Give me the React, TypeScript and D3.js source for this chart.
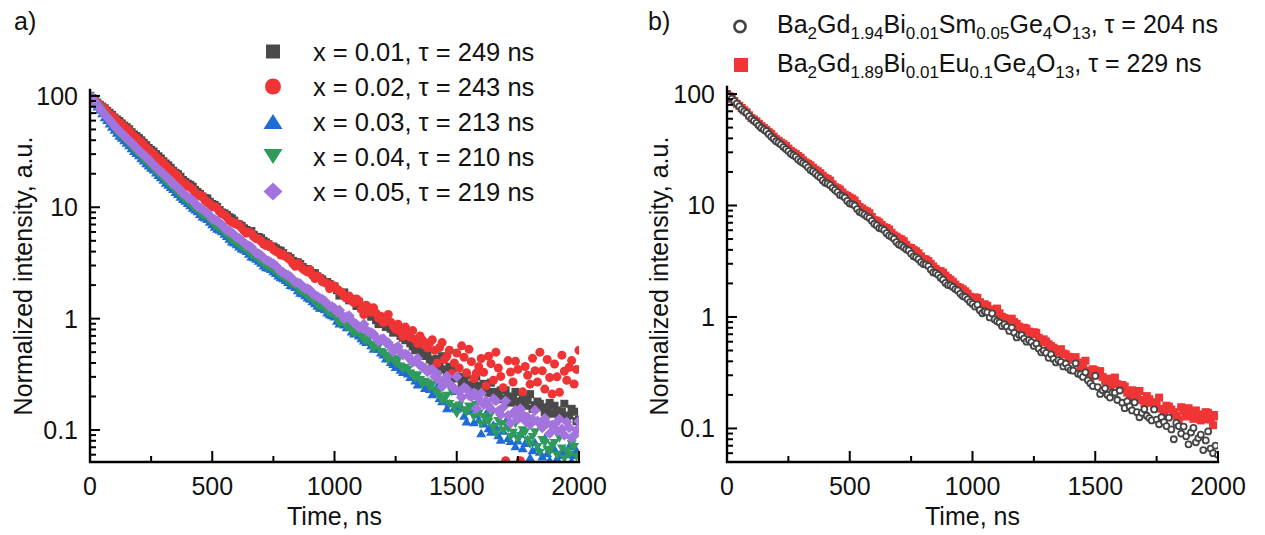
import React, { useRef, useEffect } from "react";
import * as d3 from "d3";

// time channels, ns (10 ns bins)
const TIME_NS = [
  0, 10, 20, 30, 40, 50, 60, 70, 80, 90, 100, 110, 120, 130, 140, 150, 160, 170, 180, 190,
  200, 210, 220, 230, 240, 250, 260, 270, 280, 290, 300, 310, 320, 330, 340, 350, 360, 370, 380, 390,
  400, 410, 420, 430, 440, 450, 460, 470, 480, 490, 500, 510, 520, 530, 540, 550, 560, 570, 580, 590,
  600, 610, 620, 630, 640, 650, 660, 670, 680, 690, 700, 710, 720, 730, 740, 750, 760, 770, 780, 790,
  800, 810, 820, 830, 840, 850, 860, 870, 880, 890, 900, 910, 920, 930, 940, 950, 960, 970, 980, 990,
  1000, 1010, 1020, 1030, 1040, 1050, 1060, 1070, 1080, 1090, 1100, 1110, 1120, 1130, 1140, 1150, 1160, 1170, 1180, 1190,
  1200, 1210, 1220, 1230, 1240, 1250, 1260, 1270, 1280, 1290, 1300, 1310, 1320, 1330, 1340, 1350, 1360, 1370, 1380, 1390,
  1400, 1410, 1420, 1430, 1440, 1450, 1460, 1470, 1480, 1490, 1500, 1510, 1520, 1530, 1540, 1550, 1560, 1570, 1580, 1590,
  1600, 1610, 1620, 1630, 1640, 1650, 1660, 1670, 1680, 1690, 1700, 1710, 1720, 1730, 1740, 1750, 1760, 1770, 1780, 1790,
  1800, 1810, 1820, 1830, 1840, 1850, 1860, 1870, 1880, 1890, 1900, 1910, 1920, 1930, 1940, 1950, 1960, 1970, 1980, 1990,
  2000
];

// panel a) Bi content series
const X001 = [
  100, 95.4, 91.3, 87.0, 83.4, 80.2, 77.5, 73.6, 70.6, 67.6, 64.0, 61.5, 59.5, 56.6, 54.1, 52.4, 50.2, 47.3, 45.1, 43.6, 41.8,
  39.9, 37.9, 36.1, 34.1, 32.8, 31.7, 30.0, 28.7, 27.4, 25.9, 24.7, 23.8, 22.6, 21.3, 20.4, 19.8, 18.8, 17.6, 16.9, 16.3,
  15.9, 15.3, 14.3, 13.7, 13.2, 12.5, 12.1, 12.0, 11.2, 10.7, 10.5, 10.1, 9.45, 8.98, 8.83, 8.53, 8.15, 7.96, 7.59, 7.11,
  7.02, 6.82, 6.47, 6.26, 6.05, 6.11, 5.66, 5.43, 5.41, 5.27, 5.00, 4.84, 4.66, 4.42, 4.44, 4.29, 4.12, 4.07, 3.88, 3.66,
  3.62, 3.50, 3.30, 3.22, 3.20, 3.09, 2.91, 2.78, 2.79, 2.69, 2.57, 2.56, 2.40, 2.32, 2.25, 2.14, 2.13, 2.05, 1.93, 1.95,
  1.80, 1.61, 1.69, 1.72, 1.55, 1.46, 1.50, 1.45, 1.30, 1.41, 1.24, 1.13, 1.16, 1.11, 1.04, 1.10, 0.97, 0.893, 0.952, 0.927,
  0.84, 0.877, 0.81, 0.748, 0.76, 0.789, 0.70, 0.673, 0.64, 0.659, 0.60, 0.563, 0.52, 0.583, 0.50, 0.462, 0.49, 0.470, 0.43, 0.408,
  0.39, 0.436, 0.37, 0.460, 0.35, 0.319, 0.37, 0.331, 0.29, 0.356, 0.30, 0.261, 0.28, 0.308, 0.24, 0.256, 0.27, 0.302, 0.25, 0.225,
  0.26, 0.239, 0.215, 0.266, 0.22, 0.188, 0.205, 0.227, 0.19, 0.227, 0.20, 0.176, 0.195, 0.220, 0.17, 0.181, 0.19, 0.165, 0.185, 0.210,
  0.155, 0.167, 0.18, 0.172, 0.16, 0.145, 0.15, 0.175, 0.14, 0.165, 0.15, 0.129, 0.145, 0.172, 0.13, 0.135, 0.155, 0.146, 0.12, 0.124
];
const X002 = [
  100, 95.8, 92.0, 87.0, 82.8, 79.5, 76.9, 72.3, 68.4, 66.0, 63.3, 59.9, 57.1, 55.1, 52.8, 50.4, 48.6, 45.6, 43.2, 41.7, 39.7,
  38.3, 36.5, 34.3, 32.6, 31.5, 30.1, 28.4, 27.1, 26.2, 25.1, 23.6, 22.4, 21.6, 20.6, 19.8, 18.9, 17.6, 16.7, 16.3, 15.5,
  15.1, 14.5, 13.5, 12.8, 12.8, 12.5, 11.6, 11.1, 10.7, 10.1, 10.1, 9.85, 9.15, 8.75, 8.55, 8.16, 7.62, 7.32, 7.30, 7.04,
  6.88, 6.54, 6.13, 5.86, 5.97, 5.82, 5.42, 5.23, 5.16, 4.98, 4.68, 4.53, 4.62, 4.49, 4.18, 4.02, 3.95, 3.72, 3.78, 3.62,
  3.50, 3.35, 3.10, 2.95, 3.12, 3.00, 2.80, 2.70, 2.62, 2.73, 2.45, 2.29, 2.42, 2.31, 2.15, 2.11, 2.05, 1.86, 2.00, 1.95,
  1.84, 1.77, 1.72, 1.59, 1.52, 1.60, 1.45, 1.39, 1.50, 1.44, 1.22, 1.09, 1.32, 1.26, 1.14, 1.25, 1.12, 1.01, 1.05, 0.923,
  0.99, 1.09, 0.93, 0.859, 0.80, 0.892, 0.76, 0.692, 0.84, 0.753, 0.68, 0.781, 0.65, 0.598, 0.70, 0.640, 0.58, 0.547, 0.61, 0.646,
  0.52, 0.399, 0.55, 0.609, 0.43, 0.461, 0.52, 0.321, 0.40, 0.491, 0.36, 0.570, 0.45, 0.327, 0.53, 0.411, 0.29, 0.323, 0.37, 0.439,
  0.33, 0.250, 0.46, 0.394, 0.28, 0.500, 0.36, 0.303, 0.24, 0.053, 0.42, 0.332, 0.27, 0.414, 0.35, 0.053, 0.22, 0.372, 0.31, 0.258,
  0.44, 0.341, 0.27, 0.500, 0.34, 0.233, 0.43, 0.296, 0.21, 0.391, 0.30, 0.218, 0.47, 0.337, 0.28, 0.366, 0.42, 0.259, 0.35, 0.520
];
const X003 = [
  100, 92.3, 85.6, 80.6, 75.6, 70.3, 64.8, 61.0, 56.7, 53.2, 49.9, 46.9, 44.1, 42.3, 40.2, 38.2, 36.3, 34.1, 32.1, 30.8, 29.4,
  27.7, 26.4, 25.0, 23.8, 22.8, 21.9, 20.6, 19.6, 18.7, 17.8, 16.7, 16.0, 15.3, 14.7, 13.8, 13.2, 12.5, 11.9, 11.5, 11.0,
  10.5, 9.95, 9.58, 9.24, 8.73, 8.30, 8.12, 7.90, 7.45, 7.08, 6.73, 6.46, 6.30, 6.12, 5.80, 5.55, 5.24, 4.96, 4.84, 4.68,
  4.46, 4.28, 4.20, 4.08, 3.84, 3.64, 3.58, 3.47, 3.32, 3.19, 3.02, 2.91, 2.88, 2.80, 2.68, 2.58, 2.45, 2.37, 2.32, 2.24,
  2.14, 2.02, 1.99, 1.93, 1.81, 1.72, 1.70, 1.63, 1.56, 1.52, 1.44, 1.38, 1.31, 1.26, 1.25, 1.22, 1.14, 1.10, 1.08, 1.05,
  0.96, 0.91, 0.92, 0.89, 0.84, 0.86, 0.77, 0.74, 0.75, 0.71, 0.67, 0.64, 0.62, 0.65, 0.58, 0.54, 0.56, 0.54, 0.50, 0.48,
  0.44, 0.451, 0.41, 0.393, 0.37, 0.408, 0.35, 0.333, 0.34, 0.324, 0.30, 0.324, 0.28, 0.257, 0.27, 0.267, 0.24, 0.252, 0.235, 0.210,
  0.22, 0.248, 0.195, 0.182, 0.19, 0.158, 0.175, 0.225, 0.16, 0.156, 0.17, 0.159, 0.135, 0.120, 0.15, 0.157, 0.118, 0.140, 0.125, 0.094,
  0.115, 0.142, 0.104, 0.097, 0.112, 0.108, 0.09, 0.082, 0.099, 0.121, 0.085, 0.080, 0.094, 0.072, 0.081, 0.093, 0.069, 0.077, 0.083, 0.057,
  0.066, 0.078, 0.07, 0.064, 0.058, 0.085, 0.062, 0.054, 0.071, 0.068, 0.056, 0.060, 0.065, 0.047, 0.061, 0.072, 0.053, 0.060, 0.066, 0.050
];
const X004 = [
  100, 93.0, 86.7, 81.2, 76.6, 70.8, 65.6, 61.5, 57.4, 53.6, 50.5, 47.3, 44.6, 42.7, 40.7, 38.5, 36.7, 34.4, 32.5, 31.1, 29.7,
  28.0, 26.6, 25.3, 24.0, 23.1, 22.1, 20.8, 19.8, 18.9, 17.9, 16.9, 16.1, 15.5, 14.8, 14.0, 13.3, 12.6, 12.0, 11.6, 11.1,
  10.6, 10.0, 9.70, 9.35, 8.80, 8.37, 8.25, 8.00, 7.52, 7.15, 6.80, 6.52, 6.38, 6.19, 5.85, 5.61, 5.28, 5.00, 4.90, 4.73,
  4.50, 4.33, 4.25, 4.13, 3.87, 3.68, 3.62, 3.51, 3.35, 3.23, 3.05, 2.94, 2.91, 2.84, 2.70, 2.61, 2.48, 2.39, 2.35, 2.27,
  2.16, 2.04, 2.02, 1.96, 1.83, 1.74, 1.72, 1.65, 1.58, 1.54, 1.46, 1.40, 1.32, 1.28, 1.27, 1.24, 1.15, 1.11, 1.10, 1.06,
  0.98, 0.900, 0.94, 0.908, 0.83, 0.885, 0.77, 0.729, 0.76, 0.723, 0.68, 0.636, 0.62, 0.669, 0.58, 0.535, 0.57, 0.555, 0.50, 0.486,
  0.46, 0.419, 0.44, 0.435, 0.39, 0.423, 0.37, 0.349, 0.36, 0.345, 0.32, 0.306, 0.29, 0.309, 0.28, 0.253, 0.27, 0.261, 0.24, 0.254,
  0.225, 0.211, 0.20, 0.182, 0.19, 0.202, 0.17, 0.219, 0.16, 0.139, 0.165, 0.186, 0.15, 0.142, 0.162, 0.159, 0.13, 0.167, 0.14, 0.112,
  0.13, 0.122, 0.118, 0.137, 0.105, 0.092, 0.12, 0.112, 0.098, 0.112, 0.102, 0.086, 0.094, 0.113, 0.082, 0.088, 0.099, 0.095, 0.08, 0.074,
  0.086, 0.095, 0.07, 0.062, 0.081, 0.076, 0.066, 0.063, 0.072, 0.076, 0.059, 0.084, 0.068, 0.055, 0.064, 0.060, 0.074, 0.070, 0.057, 0.049
];
const X005 = [
  100, 94.1, 88.8, 83.0, 77.9, 72.8, 68.2, 64.6, 61.0, 57.3, 54.2, 51.0, 48.2, 46.2, 44.0, 41.6, 39.5, 37.9, 36.1, 34.0, 32.1,
  30.9, 29.5, 28.1, 27.0, 25.4, 24.1, 22.9, 21.8, 20.9, 19.9, 19.0, 18.3, 17.1, 16.2, 15.7, 15.0, 14.1, 13.4, 12.9, 12.3,
  11.9, 11.5, 10.8, 10.2, 9.92, 9.58, 9.20, 8.93, 8.38, 7.92, 7.75, 7.54, 7.22, 6.97, 6.55, 6.22, 6.10, 5.93, 5.62, 5.37,
  5.24, 5.05, 4.78, 4.58, 4.50, 4.37, 4.08, 3.88, 3.82, 3.69, 3.50, 3.36, 3.28, 3.18, 3.10, 2.99, 2.80, 2.66, 2.60, 2.50,
  2.45, 2.37, 2.22, 2.13, 2.10, 2.05, 1.94, 1.87, 1.85, 1.80, 1.68, 1.62, 1.58, 1.52, 1.49, 1.44, 1.35, 1.29, 1.28, 1.24,
  1.15, 1.19, 1.08, 1.00, 1.04, 1.06, 0.96, 0.914, 0.89, 0.833, 0.83, 0.891, 0.79, 0.756, 0.75, 0.727, 0.67, 0.628, 0.65, 0.660,
  0.61, 0.607, 0.56, 0.506, 0.54, 0.560, 0.50, 0.472, 0.48, 0.469, 0.43, 0.407, 0.42, 0.439, 0.38, 0.370, 0.36, 0.334, 0.345, 0.350,
  0.30, 0.319, 0.28, 0.245, 0.27, 0.303, 0.26, 0.248, 0.235, 0.301, 0.22, 0.196, 0.24, 0.233, 0.205, 0.199, 0.215, 0.156, 0.19, 0.214,
  0.17, 0.183, 0.165, 0.154, 0.19, 0.183, 0.148, 0.137, 0.16, 0.182, 0.135, 0.115, 0.14, 0.150, 0.125, 0.155, 0.138, 0.121, 0.13, 0.112,
  0.125, 0.150, 0.12, 0.114, 0.105, 0.127, 0.115, 0.093, 0.11, 0.112, 0.098, 0.125, 0.102, 0.090, 0.118, 0.105, 0.085, 0.089, 0.1, 0.120
];

// panel b) Sm / Eu co-doped samples
const SM_005 = [
  100, 95.3, 91.1, 86.2, 82.1, 77.6, 72.8, 70.0, 67.5, 63.3, 59.9, 57.6, 55.2, 52.2, 49.6, 48.0, 46.4, 43.8, 41.5, 39.7, 37.7,
  36.6, 35.2, 33.4, 32.1, 30.8, 29.1, 28.2, 27.3, 25.9, 24.8, 24.0, 23.2, 22.0, 20.8, 20.2, 19.4, 18.5, 17.8, 16.8, 16.0,
  15.7, 15.2, 14.4, 13.8, 13.2, 12.4, 12.2, 11.8, 11.0, 10.4, 10.3, 10.0, 9.28, 8.73, 8.55, 8.27, 7.95, 7.74, 7.28, 6.86,
  6.62, 6.27, 6.20, 6.02, 5.64, 5.37, 5.23, 5.03, 4.70, 4.46, 4.38, 4.22, 4.05, 3.95, 3.70, 3.50, 3.43, 3.30, 3.11, 2.98,
  2.95, 2.86, 2.66, 2.51, 2.48, 2.39, 2.25, 2.16, 2.02, 1.94, 1.92, 1.86, 1.78, 1.73, 1.62, 1.54, 1.51, 1.44, 1.36, 1.31,
  1.24, 1.29, 1.15, 1.08, 1.12, 1.10, 0.99, 1.075, 0.95, 0.915, 0.89, 0.829, 0.86, 0.816, 0.75, 0.804, 0.72, 0.655, 0.69, 0.687,
  0.64, 0.600, 0.62, 0.594, 0.55, 0.576, 0.52, 0.482, 0.50, 0.476, 0.43, 0.462, 0.42, 0.391, 0.41, 0.396, 0.36, 0.382, 0.35, 0.333,
  0.33, 0.384, 0.31, 0.305, 0.29, 0.319, 0.27, 0.254, 0.24, 0.296, 0.235, 0.204, 0.22, 0.229, 0.20, 0.189, 0.21, 0.209, 0.18, 0.219,
  0.17, 0.152, 0.175, 0.158, 0.145, 0.171, 0.14, 0.126, 0.138, 0.149, 0.13, 0.124, 0.118, 0.148, 0.12, 0.109, 0.126, 0.114, 0.105, 0.125,
  0.098, 0.080, 0.112, 0.105, 0.09, 0.104, 0.085, 0.072, 0.092, 0.101, 0.075, 0.082, 0.088, 0.064, 0.078, 0.094, 0.066, 0.060, 0.07, 0.058
];
const EU_01 = [
  100, 95.6, 90.5, 86.3, 81.7, 78.5, 74.9, 71.5, 68.6, 64.4, 60.8, 59.0, 56.9, 54.0, 51.5, 49.7, 47.6, 45.6, 43.9, 41.5, 39.4,
  38.1, 36.6, 35.5, 34.2, 32.4, 30.9, 29.9, 28.9, 27.8, 26.8, 25.4, 24.3, 23.7, 22.9, 21.8, 20.9, 20.3, 19.5, 18.5, 17.7,
  17.3, 16.7, 15.5, 14.6, 14.3, 13.9, 13.1, 12.5, 12.2, 11.8, 11.5, 11.1, 10.3, 9.69, 9.40, 9.05, 8.85, 8.53, 7.90, 7.39,
  7.30, 7.06, 6.70, 6.38, 6.30, 6.10, 5.70, 5.40, 5.25, 5.06, 4.97, 4.79, 4.45, 4.20, 4.15, 4.01, 3.88, 3.73, 3.50, 3.31,
  3.28, 3.18, 3.00, 2.84, 2.70, 2.59, 2.58, 2.50, 2.35, 2.23, 2.16, 2.07, 1.95, 1.86, 1.83, 1.77, 1.70, 1.62, 1.52, 1.44,
  1.50, 1.48, 1.36, 1.27, 1.30, 1.26, 1.17, 1.105, 1.14, 1.19, 1.08, 1.005, 0.98, 0.932, 0.96, 0.965, 0.90, 0.867, 0.82, 0.760,
  0.80, 0.787, 0.74, 0.703, 0.73, 0.720, 0.65, 0.594, 0.63, 0.603, 0.57, 0.548, 0.53, 0.482, 0.50, 0.514, 0.47, 0.462, 0.44, 0.413,
  0.42, 0.436, 0.39, 0.343, 0.37, 0.405, 0.33, 0.285, 0.34, 0.332, 0.30, 0.327, 0.29, 0.267, 0.28, 0.243, 0.27, 0.286, 0.25, 0.227,
  0.245, 0.238, 0.21, 0.187, 0.22, 0.206, 0.19, 0.217, 0.18, 0.168, 0.195, 0.183, 0.17, 0.158, 0.172, 0.189, 0.15, 0.137, 0.16, 0.157,
  0.148, 0.140, 0.13, 0.121, 0.155, 0.144, 0.128, 0.152, 0.135, 0.122, 0.145, 0.134, 0.118, 0.121, 0.14, 0.138, 0.12, 0.107, 0.132, 0.128
];

const X_TICKS = [0, 500, 1000, 1500, 2000];
const X_MINOR = [250, 750, 1250, 1750];
const Y_TICKS = [0.1, 1, 10, 100];
const Y_TICK_LABELS = ["0.1", "1", "10", "100"];

const LEGEND_A = [
  "x = 0.01, \u03c4 = 249 ns",
  "x = 0.02, \u03c4 = 243 ns",
  "x = 0.03, \u03c4 = 213 ns",
  "x = 0.04, \u03c4 = 210 ns",
  "x = 0.05, \u03c4 = 219 ns"
];
// [text, subscript?]
const LEGEND_B: [string, boolean][][] = [
  [["Ba", false], ["2", true], ["Gd", false], ["1.94", true], ["Bi", false], ["0.01", true],
   ["Sm", false], ["0.05", true], ["Ge", false], ["4", true], ["O", false], ["13", true], [", \u03c4 = 204 ns", false]],
  [["Ba", false], ["2", true], ["Gd", false], ["1.89", true], ["Bi", false], ["0.01", true],
   ["Eu", false], ["0.1", true], ["Ge", false], ["4", true], ["O", false], ["13", true], [", \u03c4 = 229 ns", false]]
];

const FONT = "'Liberation Sans', Arial, Helvetica, sans-serif";

const markerPath = (kind, big) => {
  switch (kind) {
    case "square": {
      const s = big ? 14 : 8;
      return `M${-s / 2},${-s / 2}h${s}v${s}h${-s}Z`;
    }
    case "triUp": {
      const w = big ? 19 : 10, h = big ? 15 : 8.5;
      return `M0,${-h / 2}L${w / 2},${h / 2}L${-w / 2},${h / 2}Z`;
    }
    case "triDown": {
      const w = big ? 19 : 10, h = big ? 15 : 8.5;
      return `M0,${h / 2}L${w / 2},${-h / 2}L${-w / 2},${-h / 2}Z`;
    }
    case "diamond": {
      const w = big ? 9.5 : 5.6, h = big ? 9 : 5.6;
      return `M0,${-h}L${w},0L0,${h}L${-w},0Z`;
    }
    default:
      return "";
  }
};

const PANELS = [
  {
    id: "a", label: "a)", labelX: 14, labelY: 30,
    left: 90, right: 579, top: 90, bottom: 462, yMin: 0.0516, yMax: 113, titleX: 32,
    series: [
      { values: X001, color: "#4a4a4a", marker: "square" },
      { values: X002, color: "#ee3434", marker: "circle" },
      { values: X003, color: "#1f6bd6", marker: "triUp" },
      { values: X004, color: "#2e9b5c", marker: "triDown" },
      { values: X005, color: "#a374dd", marker: "diamond" }
    ]
  },
  {
    id: "b", label: "b)", labelX: 648, labelY: 30,
    left: 727, right: 1218, top: 87, bottom: 462, yMin: 0.05, yMax: 115.6, titleX: 668,
    series: [
      { values: EU_01, color: "#ef3535", marker: "square" },
      { values: SM_005, color: "#454545", marker: "openCircle" }
    ]
  }
];

const App = () => {
  const svgRef = useRef(null);

  useEffect(() => {
    const svg = d3.select(svgRef.current);
    svg.selectAll("*").remove();
    const defs = svg.append("defs");

    PANELS.forEach((p) => {
      const x = d3.scaleLinear().domain([0, 2000]).range([p.left, p.right]);
      const y = d3.scaleLog().domain([p.yMin, p.yMax]).range([p.bottom, p.top]);

      defs.append("clipPath").attr("id", `clip-${p.id}`)
        .append("rect")
        .attr("x", p.left).attr("y", p.top - 12)
        .attr("width", p.right - p.left).attr("height", p.bottom - p.top + 12);

      const data = svg.append("g").attr("clip-path", `url(#clip-${p.id})`);

      p.series.forEach((s) => {
        const pts = TIME_NS.map((t, i) => ({ t, v: s.values[i] })).filter(d => d.v >= p.yMin);
        const g = data.append("g");
        if (s.marker === "circle") {
          g.selectAll("circle").data(pts).join("circle")
            .attr("cx", d => x(d.t)).attr("cy", d => y(d.v)).attr("r", 4.5)
            .attr("fill", s.color);
        } else if (s.marker === "openCircle") {
          g.selectAll("circle").data(pts).join("circle")
            .attr("cx", d => x(d.t)).attr("cy", d => y(d.v)).attr("r", 3.0)
            .attr("fill", "#fff").attr("stroke", s.color).attr("stroke-width", 1.8);
        } else {
          g.selectAll("path").data(pts).join("path")
            .attr("transform", d => `translate(${x(d.t)},${y(d.v)})`)
            .attr("d", markerPath(s.marker, false))
            .attr("fill", s.color);
        }
      });

      // axes
      const ax = svg.append("g").attr("stroke", "#000");
      ax.append("path")
        .attr("d", `M${p.left},${p.top}V${p.bottom}H${p.right}`)
        .attr("fill", "none").attr("stroke-width", 2.4).attr("stroke-linecap", "square");

      const yMinor = [];
      [0.01, 0.1, 1, 10].forEach(dec => {
        for (let k = 2; k <= 9; k++) {
          const v = dec * k;
          if (v >= p.yMin && v <= p.yMax) yMinor.push(v);
        }
      });
      ax.selectAll(".ymaj").data(Y_TICKS).join("line")
        .attr("x1", p.left).attr("x2", p.left + 10)
        .attr("y1", d => y(d)).attr("y2", d => y(d)).attr("stroke-width", 2);
      ax.selectAll(".ymin").data(yMinor).join("line")
        .attr("x1", p.left).attr("x2", p.left + 6)
        .attr("y1", d => y(d)).attr("y2", d => y(d)).attr("stroke-width", 2);
      ax.selectAll(".xmaj").data(X_TICKS).join("line")
        .attr("x1", d => x(d)).attr("x2", d => x(d))
        .attr("y1", p.bottom).attr("y2", p.bottom - 11).attr("stroke-width", 2);
      ax.selectAll(".xmin").data(X_MINOR).join("line")
        .attr("x1", d => x(d)).attr("x2", d => x(d))
        .attr("y1", p.bottom).attr("y2", p.bottom - 6).attr("stroke-width", 2);

      const txt = svg.append("g").attr("font-family", FONT).attr("font-size", 25).attr("fill", "#111");
      txt.selectAll(".yl").data(Y_TICKS).join("text")
        .attr("x", p.left - 12).attr("y", d => y(d)).attr("dy", "0.36em")
        .attr("text-anchor", "end")
        .text((d, i) => Y_TICK_LABELS[i]);
      txt.selectAll(".xl").data(X_TICKS).join("text")
        .attr("x", d => x(d)).attr("y", 495)
        .attr("text-anchor", "middle")
        .text(d => String(d));
      txt.append("text")
        .attr("x", (p.left + p.right) / 2).attr("y", 525)
        .attr("text-anchor", "middle").text("Time, ns");
      txt.append("text")
        .attr("transform", `translate(${p.titleX},276) rotate(-90)`)
        .attr("text-anchor", "middle").text("Normalized intensity, a.u.");
      txt.append("text").attr("x", p.labelX).attr("y", p.labelY).text(p.label);
    });

    // legend a
    const la = svg.append("g").attr("font-family", FONT).attr("font-size", 25.5).attr("fill", "#111");
    PANELS[0].series.forEach((s, i) => {
      const cy = 51.5 + i * 35;
      if (s.marker === "circle") {
        la.append("circle").attr("cx", 273).attr("cy", cy).attr("r", 8).attr("fill", s.color);
      } else {
        la.append("path").attr("transform", `translate(273,${cy})`)
          .attr("d", markerPath(s.marker, true)).attr("fill", s.color);
      }
      la.append("text").attr("x", 313).attr("y", cy + 9).text(LEGEND_A[i]);
    });

    // legend b
    const lb = svg.append("g").attr("font-family", FONT).attr("font-size", 25).attr("fill", "#111");
    lb.append("circle").attr("cx", 740).attr("cy", 26.5).attr("r", 5.6)
      .attr("fill", "#fff").attr("stroke", "#454545").attr("stroke-width", 2.6);
    lb.append("path").attr("transform", "translate(741,65)")
      .attr("d", markerPath("square", true)).attr("fill", "#ef3535");
    LEGEND_B.forEach((parts, i) => {
      const t = lb.append("text").attr("x", 777).attr("y", 33 + i * 39);
      parts.forEach(([str, sub], j) => {
        const prev = j > 0 ? parts[j - 1][1] : false;
        let dy = 0;
        if (sub && !prev) dy = 6;
        if (!sub && prev) dy = -6;
        t.append("tspan")
          .attr("dy", dy)
          .attr("font-size", sub ? 17 : 25)
          .text(str);
      });
    });
  }, []);

  return (
    <svg
      ref={svgRef}
      width={1265}
      height={535}
      viewBox="0 0 1265 535"
      style={{ position: "absolute", left: 0, top: 0, background: "#fff", display: "block" }}
    />
  );
};

export default App;
